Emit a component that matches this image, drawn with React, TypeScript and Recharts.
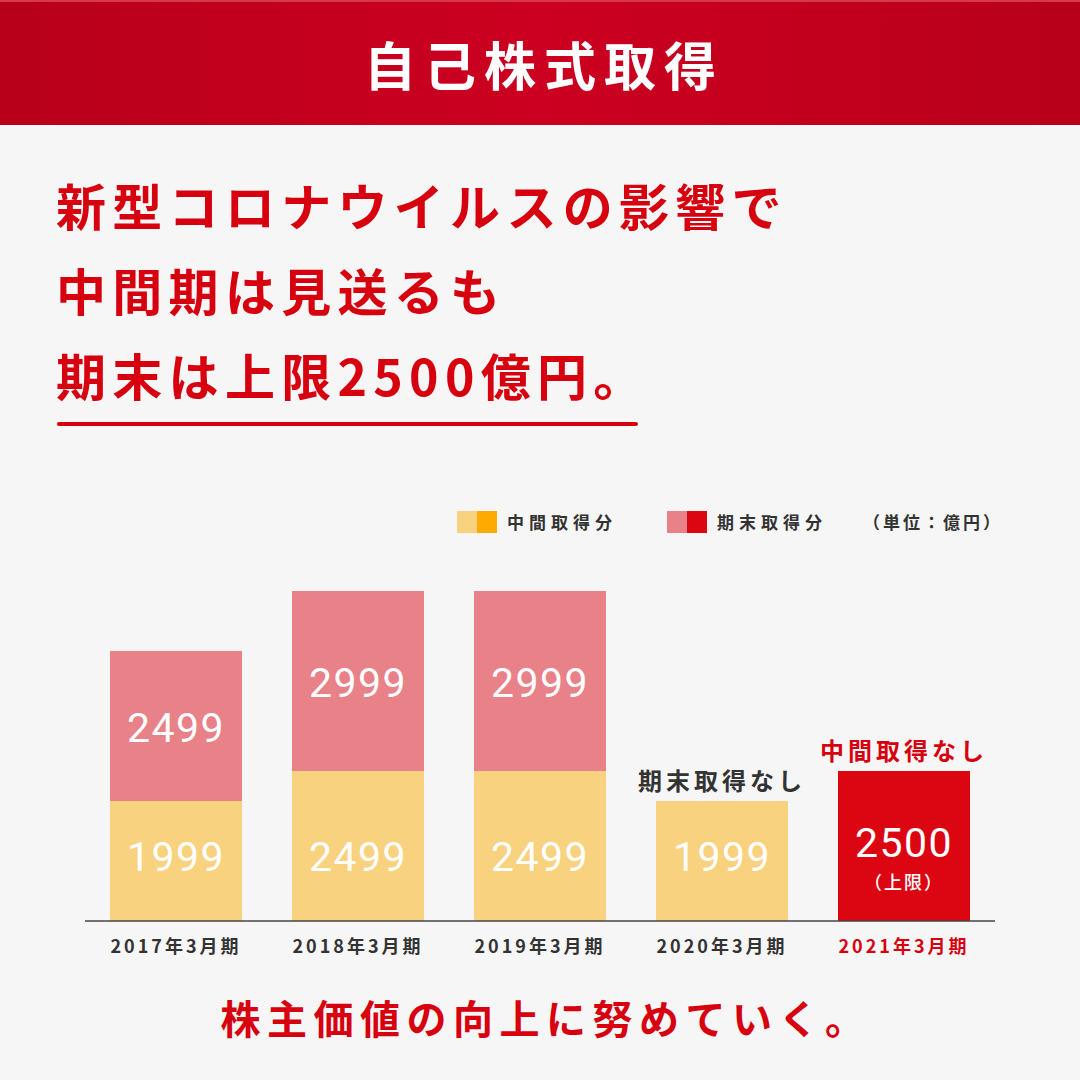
import React from "react";
import { Bar, BarChart, Cell, LabelList, Legend, XAxis, YAxis } from "recharts";

const CATEGORIES = ["2017年3月期", "2018年3月期", "2019年3月期", "2020年3月期", "2021年3月期"];
const INTERIM = [1999, 2499, 2499, 1999, 0];
const YEAR_END = [2499, 2999, 2999, 0, 2500];
const NOTES = ["", "", "", "期末取得なし", "中間取得なし"];
const SUB_LABELS = ["", "", "", "", "（上限）"];
const LEGEND_ITEMS = ["中間取得分", "期末取得分"];
const UNIT_LABEL = "（単位：億円）";

const RED = "#d7000f";
const DARK = "#333333";
const BG = "#f6f6f6";
const YELLOW = "#f9d27f";
const YELLOW_DARK = "#ffaa00";
const PINK = "#e98189";
const RED_BAR = "#dc0613";

const JP = '"Noto Sans CJK JP", "Noto Sans", sans-serif';
const NUM = 'Roboto, "Noto Sans", sans-serif';

const data = CATEGORIES.map((c, i) => ({
  name: c,
  interim: INTERIM[i],
  yearEnd: YEAR_END[i],
}));

const Tick = (props: any) => {
  const { x, y, payload, index } = props;
  const last = index === CATEGORIES.length - 1;
  return (
    <text
      x={x}
      y={y + 16}
      textAnchor="middle"
      dominantBaseline="central"
      fill={last ? RED : DARK}
      fontFamily={JP}
      fontWeight={700}
      fontSize={18}
      letterSpacing={3}
    >
      {payload.value}
    </text>
  );
};

const noteText = (cx: number, top: number, i: number) =>
  NOTES[i] ? (
    <text
      x={cx}
      y={top - 22}
      textAnchor="middle"
      dominantBaseline="central"
      fill={i === CATEGORIES.length - 1 ? RED : DARK}
      fontFamily={JP}
      fontWeight={700}
      fontSize={24}
      letterSpacing={4}
    >
      {NOTES[i]}
    </text>
  ) : null;

const numText = (cx: number, cy: number, v: number) => (
  <text
    x={cx}
    y={cy}
    textAnchor="middle"
    dominantBaseline="central"
    fill="#fff"
    fontFamily={NUM}
    fontWeight={400}
    fontSize={41}
    letterSpacing={1.5}
  >
    {v}
  </text>
);

// LabelList is keyed on the category name, so the index into the arrays stays correct
const InterimLabel = (props: any) => {
  const { x, y, width, height, value } = props;
  const i = CATEGORIES.indexOf(value);
  if (i < 0 || !INTERIM[i]) return null;
  const cx = x + width / 2;
  return (
    <g>
      {numText(cx, y + height - 64, INTERIM[i])}
      {YEAR_END[i] === 0 ? noteText(cx, y, i) : null}
    </g>
  );
};

const YearEndLabel = (props: any) => {
  const { x, y, width, height, value } = props;
  const i = CATEGORIES.indexOf(value);
  if (i < 0 || !YEAR_END[i]) return null;
  const cx = x + width / 2;
  const sub = SUB_LABELS[i];
  return (
    <g>
      {numText(cx, y + height / 2 + (sub ? -3 : 2), YEAR_END[i])}
      {sub ? (
        <text
          x={cx}
          y={y + height / 2 + 35}
          textAnchor="middle"
          dominantBaseline="central"
          fill="#fff"
          fontFamily={JP}
          fontWeight={500}
          fontSize={18}
          letterSpacing={2}
        >
          {sub}
        </text>
      ) : null}
      {noteText(cx, y, i)}
    </g>
  );
};

const LegendContent = () => {
  const swatches = [
    [YELLOW, YELLOW_DARK],
    [PINK, RED_BAR],
  ];
  const textStyle: React.CSSProperties = {
    fontFamily: JP,
    fontWeight: 700,
    fontSize: 17,
    letterSpacing: 5,
    color: DARK,
  };
  return (
    <div style={{ display: "flex", alignItems: "center" }}>
      {LEGEND_ITEMS.map((label, i) => (
        <div key={label} style={{ display: "flex", alignItems: "center", marginRight: i === 0 ? 50 : 36 }}>
          <div style={{ width: 20, height: 22, background: swatches[i][0] }} />
          <div style={{ width: 20, height: 22, background: swatches[i][1], marginRight: 10 }} />
          <span style={textStyle}>{label}</span>
        </div>
      ))}
      <span style={{ ...textStyle, letterSpacing: 3 }}>{UNIT_LABEL}</span>
    </div>
  );
};

export default function App() {
  return (
    <div
      style={{
        position: "fixed",
        left: 0,
        top: 0,
        width: 1080,
        height: 1080,
        background: BG,
        overflow: "hidden",
        fontFamily: JP,
      }}
    >
      <div
        style={{
          position: "absolute",
          left: 0,
          top: 0,
          width: 1080,
          height: 125,
          background: "linear-gradient(90deg, #b8001a 0%, #cc0020 50%, #b8001a 100%)",
          borderTop: "2px solid #d63a4a",
          boxSizing: "border-box",
        }}
      />
      <div
        style={{
          position: "absolute",
          left: 0,
          top: 35,
          width: 1080,
          textAlign: "center",
          color: "#fff",
          fontSize: 52,
          lineHeight: "58px",
          fontWeight: 700,
          letterSpacing: 8,
          paddingLeft: 4,
        }}
      >
        自己株式取得
      </div>

      {["新型コロナウイルスの影響で", "中間期は見送るも", "期末は上限2500億円。"].map((line, i) => (
        <div
          key={line}
          style={{
            position: "absolute",
            left: 56,
            top: 176 + i * 85,
            fontSize: 50,
            lineHeight: "56px",
            fontWeight: 700,
            letterSpacing: 6.3,
            color: RED,
            whiteSpace: "nowrap",
          }}
        >
          {line}
        </div>
      ))}
      <div
        style={{
          position: "absolute",
          left: 57,
          top: 422,
          width: 581,
          height: 4,
          borderRadius: 2,
          background: RED,
        }}
      />

      <div style={{ position: "absolute", left: 0, top: 0 }}>
        <BarChart
          width={1080}
          height={1080}
          data={data}
          margin={{ top: 561, right: 85, bottom: 119, left: 85 }}
          barCategoryGap={25}
        >
          <YAxis hide domain={[0, 6000]} />
          <XAxis
            dataKey="name"
            height={40}
            axisLine={{ stroke: "#444", strokeWidth: 1.5 }}
            tickLine={false}
            interval={0}
            tick={<Tick />}
          />
          <Legend
            layout="horizontal"
            verticalAlign="middle"
            align="center"
            wrapperStyle={{ top: 509, left: 457, width: 600 }}
            content={<LegendContent />}
          />
          <Bar dataKey="interim" stackId="a" fill={YELLOW} isAnimationActive={false}>
            <LabelList dataKey="name" content={<InterimLabel />} />
          </Bar>
          <Bar dataKey="yearEnd" stackId="a" fill={PINK} isAnimationActive={false}>
            {data.map((_, i) => (
              <Cell key={i} fill={i === data.length - 1 ? RED_BAR : PINK} />
            ))}
            <LabelList dataKey="name" content={<YearEndLabel />} />
          </Bar>
        </BarChart>
      </div>

      <div
        style={{
          position: "absolute",
          left: 0,
          top: 994,
          width: 1080,
          textAlign: "center",
          fontSize: 40,
          lineHeight: "46px",
          fontWeight: 700,
          letterSpacing: 6.5,
          paddingLeft: 6,
          color: RED,
        }}
      >
        株主価値の向上に努めていく。
      </div>
    </div>
  );
}
